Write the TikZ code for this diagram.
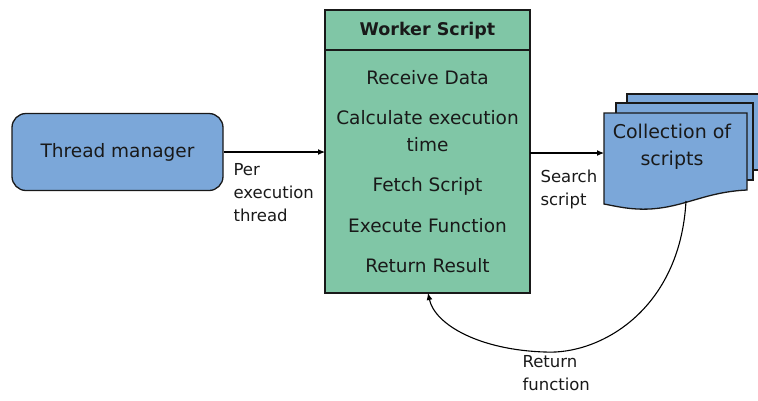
\documentclass[tikz,border=0pt]{standalone}
\usepackage{fontspec}
\setmainfont{DejaVu Sans}
\usetikzlibrary{arrows.meta}
\definecolor{boxblue}{HTML}{7BA7D9}
\definecolor{boxgreen}{HTML}{80C6A6}
\begin{document}
\begin{tikzpicture}[x=1pt,y=-1pt,
  lbl/.style={font=\fontsize{16.5}{23}\selectfont, text=black!90},
  itm/.style={font=\fontsize{18.5}{20}\selectfont, text=black!90, inner sep=0pt},
  conn/.style={draw=black, line width=1.1pt, -{Latex[length=7pt,width=6pt]}},
  outl/.style={draw=black!90, line width=1.3pt}]
\useasboundingbox (0,0) rectangle (758,400);
% thread manager
\node[outl, fill=boxblue, rounded corners=14pt, minimum width=211pt, minimum height=77pt,
      font=\fontsize{18.5}{22}\selectfont, text=black!90] (tm) at (117.5,152) {Thread manager};
% worker script
\draw[outl, fill=boxgreen] (325,10) rectangle (530,293);
\node[inner sep=0pt, minimum width=205pt, minimum height=283pt, anchor=north west] (ws) at (325,10) {};
\draw[outl] (325,50) -- (530,50);
\node[itm, font=\bfseries\fontsize{17.5}{20}\selectfont] (hdr) at (427.5,31) {Worker Script};
\node[itm] (i1) at (427.5,78) {Receive Data};
\node[itm] (i2) at (427.5,118) {Calculate execution};
\node[itm] (i2b) at (427.5,145) {time};
\node[itm] (i3) at (427.5,186) {Fetch Script};
\node[itm] (i4) at (427.5,226) {Execute Function};
\node[itm] (i5) at (427.5,266) {Return Result};
% collection of scripts
\draw[outl, fill=boxblue] (627,94) -- (775,94) -- (775,170) -- (627,170) -- cycle;
\draw[outl, fill=boxblue] (616,103) -- (753,103) -- (753,180) -- (616,180) -- cycle;
\draw[outl, fill=boxblue] (604,113) -- (747,113) -- (747,190)
   .. controls (705,192) and (685,207) .. (650,209)
   .. controls (630,210) and (615,206) .. (604,204) -- cycle;
\node[inner sep=0pt, minimum width=143pt, minimum height=91pt, anchor=north west] (doc) at (604,113) {};
\coordinate (docbot) at (686,201);
\node[itm, align=center, font=\fontsize{19}{27}\selectfont] (doctext) at (672,147) {Collection of\\scripts};
% connectors
\draw[conn] (tm.east) -- (tm.east -| ws.west);
\draw[conn] (530,153) -- (604,153);
\coordinate (retend) at (428,293);
\draw[conn] (docbot) .. controls (680,310) and (600,355) .. (545,352)
   .. controls (480,350) and (435,325) .. (retend);
% labels
\node[lbl, anchor=north west, align=left] (l1) at (230,160) {Per\\execution\\thread};
\node[lbl, anchor=north west, align=left] (l2) at (537,166) {Search\\script};
\node[lbl, anchor=north west, align=left] (l3) at (519,352) {Return\\function};
\end{tikzpicture}
\end{document}
